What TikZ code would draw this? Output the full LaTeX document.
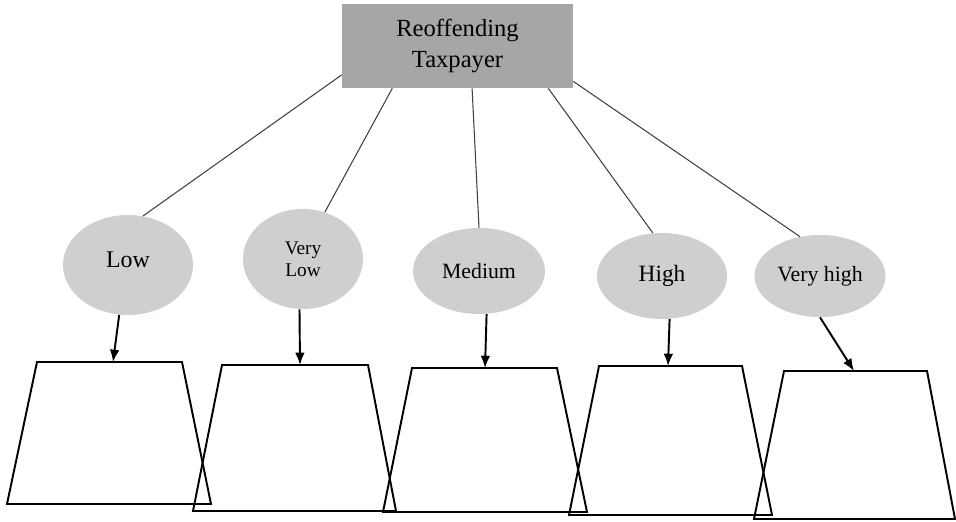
\documentclass[tikz,border=0pt]{standalone}
\usepackage{fontspec}
\setmainfont{Liberation Serif}
\usetikzlibrary{shapes.geometric,arrows.meta}
\definecolor{boxcolor}{HTML}{A6A6A6}
\definecolor{levelcolor}{HTML}{D0CECE}
\definecolor{linecolor}{HTML}{404040}

\begin{document}
\begin{tikzpicture}[x=0.02cm, y=-0.02cm,
    level/.style={ellipse, fill=levelcolor, inner sep=0pt, align=center},
    bin/.style={line width=1.1pt, line join=miter},
    link/.style={linecolor, line width=0.6pt},
    pointer/.style={-{Latex[length=7pt,width=5.5pt]}, line width=1.1pt}]
  \useasboundingbox (0,0) rectangle (956,521);
  % top box
  \node[fill=boxcolor, minimum width=4.62cm, minimum height=1.68cm, align=center, font=\fontsize{14}{18}\selectfont] (taxpayer) at (457.5,46) {Reoffending\\Taxpayer};
  % levels
  \node[level, minimum width=2.6cm, minimum height=2cm, text depth=6pt, font=\fontsize{13.6}{16}\selectfont] (low) at (128,265) {Low};
  \node[level, minimum width=2.4cm, minimum height=2cm, font=\fontsize{11}{12.5}\selectfont] (vlow) at (303,259) {Very\\Low};
  \node[level, minimum width=2.64cm, minimum height=1.72cm, font=\fontsize{12.4}{15}\selectfont] (medium) at (479,271) {Medium};
  \node[level, minimum width=2.6cm, minimum height=1.72cm, font=\fontsize{13.3}{16}\selectfont] (high) at (662,276) {High};
  \node[level, minimum width=2.62cm, minimum height=1.64cm, font=\fontsize{12.4}{15}\selectfont] (vhigh) at (820,276) {Very high};
  % bins
  \draw[bin] (37,362) -- (182,362) -- (211,504) -- (7,504) -- cycle;
  \draw[bin] (222,365) -- (368,365) -- (396,511) -- (193,511) -- cycle;
  \draw[bin] (412,368) -- (557,368) -- (587,512) -- (383,512) -- cycle;
  \draw[bin] (599,366) -- (742,366) -- (772,515) -- (569,515) -- cycle;
  \draw[bin] (784,371) -- (927,371) -- (955,519) -- (754,519) -- cycle;
  \coordinate (lowtop) at (113,362);
  \coordinate (vlowtop) at (300,365);
  \coordinate (mediumtop) at (485,368);
  \coordinate (hightop) at (668,366);
  \coordinate (vhightop) at (854,371);
  % links
  \draw[link] (taxpayer.194) -- (low.73);
  \draw[link] (taxpayer.213) -- (vlow.65);
  \draw[link] (taxpayer.289) -- (medium.north);
  \draw[link] (taxpayer.335) -- (high.102);
  \draw[link] (taxpayer.343) -- (vhigh.117);
  \draw[pointer] (low.260) -- (lowtop);
  \draw[pointer] (vlow.266) -- (vlowtop);
  \draw[pointer] (medium.280) -- (mediumtop);
  \draw[pointer] (high.280) -- (hightop);
  \draw[pointer] (vhigh.south) -- (vhightop);
\end{tikzpicture}
\end{document}
